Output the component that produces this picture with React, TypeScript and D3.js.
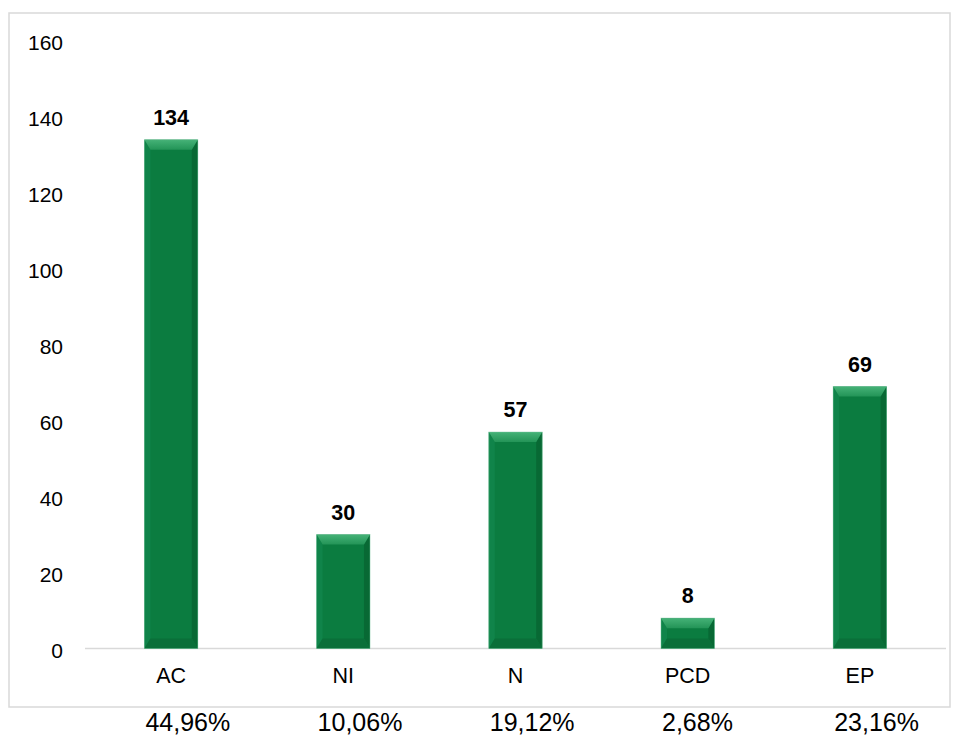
import React from "react";
import * as d3 from "d3";

const categories = ["AC", "NI", "N", "PCD", "EP"];
const values = [134, 30, 57, 8, 69];
const percentLabels = ["44,96%", "10,06%", "19,12%", "2,68%", "23,16%"];
const yTicks = [0, 20, 40, 60, 80, 100, 120, 140, 160];

const W = 960;
const H = 735;
const FONT = "'Liberation Sans', Arial, sans-serif";

export default function App() {
  const x = d3.scaleBand<string>().domain(categories).range([85, 946]).paddingInner(0.69).paddingOuter(0.345);
  const y = d3.scaleLinear().domain([0, 160]).range([648.5, 41]);
  const bw = x.bandwidth();
  const bev = 10;

  return (
    <svg width={W} height={H} style={{ position: "fixed", left: 0, top: 0, background: "#fff" }}>
      <defs>
        <linearGradient id="topBevel" x1="0" y1="0" x2="0" y2="1">
          <stop offset="0" stopColor="#45b277" />
          <stop offset="1" stopColor="#239457" />
        </linearGradient>
      </defs>
      <rect x={9} y={13} width={941} height={694} fill="#fff" stroke="#d9d9d9" strokeWidth={1.5} />
      <line x1={85} x2={946} y1={y(0)} y2={y(0)} stroke="#d9d9d9" strokeWidth={1.5} />
      {yTicks.map((t) => (
        <text key={t} x={63} y={y(t) + 1.5} textAnchor="end" dominantBaseline="central" fontFamily={FONT} fontSize={21} fill="#000">
          {t}
        </text>
      ))}
      {categories.map((c, i) => {
        const x0 = x(c) as number;
        const x1 = x0 + bw;
        const y0 = y(values[i]);
        const y1 = y(0);
        const h = y1 - y0;
        const b = Math.min(bev, h / 2, bw / 2);
        const s = b * 0.6;
        return (
          <g key={c}>
            <rect x={x0} y={y0} width={bw} height={h} fill="#0b7c40" />
            <polygon points={`${x0},${y0} ${x0 + s},${y0 + b} ${x0 + s},${y1 - b} ${x0},${y1}`} fill="#10844a" />
            <polygon points={`${x1},${y0} ${x1 - s},${y0 + b} ${x1 - s},${y1 - b} ${x1},${y1}`} fill="#086934" />
            <polygon points={`${x0},${y0} ${x1},${y0} ${x1 - s},${y0 + b} ${x0 + s},${y0 + b}`} fill="url(#topBevel)" />
            <polygon points={`${x0},${y1} ${x1},${y1} ${x1 - s},${y1 - b} ${x0 + s},${y1 - b}`} fill="#0a6f39" />
            <rect x={x0} y={y0} width={bw} height={h} fill="none" stroke="#6cc096" strokeWidth={0.8} strokeOpacity={0.6} />
            <text x={x0 + bw / 2} y={y0 - 15} textAnchor="middle" fontFamily={FONT} fontWeight="bold" fontSize={21.5} fill="#000">
              {values[i]}
            </text>
            <text x={x0 + bw / 2} y={683} textAnchor="middle" fontFamily={FONT} fontSize={21.5} fill="#000">
              {c}
            </text>
            <text x={x0 + 1} y={731} textAnchor="start" fontFamily={FONT} fontSize={25} fill="#000">
              {percentLabels[i]}
            </text>
          </g>
        );
      })}
    </svg>
  );
}
